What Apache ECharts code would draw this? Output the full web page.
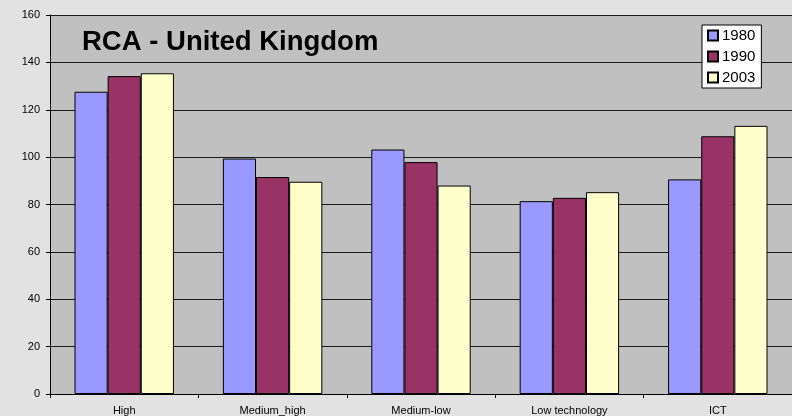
<!DOCTYPE html>
<html>
<head>
<meta charset="utf-8">
<script src="https://cdn.jsdelivr.net/npm/echarts@6/dist/echarts.min.js"></script>
<style>
html,body{margin:0;padding:0;background:#e2e2e2;}
#chart{width:792px;height:416px;}
</style>
</head>
<body>
<div id="chart"></div>
<script>
const categories = ['High', 'Medium_high', 'Medium-low', 'Low technology', 'ICT'];
const seriesNames = ['1980', '1990', '2003'];
const values1980 = [127.6, 99.4, 103.2, 81.4, 90.6];
const values1990 = [134.2, 91.6, 97.9, 82.8, 108.8];
const values2003 = [135.4, 89.6, 88.0, 85.2, 113.2];
const yTicks = [0, 20, 40, 60, 80, 100, 120, 140, 160];
const titleText = 'RCA - United Kingdom';

const colors = ['#9999ff', '#993366', '#ffffcc'];
const allValues = [values1980, values1990, values2003];
const FONT = '"Liberation Sans", Arial, sans-serif';

const chart = echarts.init(document.getElementById('chart'), null, {renderer: 'canvas'});
chart.setOption({
  animation: false,
  backgroundColor: '#e2e2e2',
  title: {
    text: titleText,
    left: 82, top: 28, padding: 0,
    textStyle: {fontFamily: FONT, fontSize: 27.5, fontWeight: 'bold', color: '#000'}
  },
  legend: {
    orient: 'vertical',
    left: 702, top: 25,
    padding: [3, 6, 3, 5],
    backgroundColor: '#ffffff',
    borderColor: '#000', borderWidth: 1,
    itemWidth: 10, itemHeight: 10, itemGap: 6,
    icon: 'rect',
    textStyle: {fontFamily: FONT, fontSize: 15, color: '#000', lineHeight: 15, padding: [0, 0, 0, -1]},
    data: seriesNames
  },
  grid: {left: 50, right: 0, top: 15, bottom: 22, show: true, backgroundColor: '#c0c0c0', borderWidth: 0},
  xAxis: {
    type: 'category',
    data: categories,
    axisLine: {lineStyle: {color: '#000', width: 1}},
    axisTick: {show: true, length: 4, lineStyle: {color: '#000'}},
    axisLabel: {fontFamily: FONT, fontSize: 11, color: '#000', margin: 11, interval: 0}
  },
  yAxis: {
    type: 'value',
    min: yTicks[0], max: yTicks[yTicks.length - 1], interval: yTicks[1] - yTicks[0],
    axisLine: {show: true, lineStyle: {color: '#000', width: 1}},
    axisTick: {show: true, length: 4, lineStyle: {color: '#000'}},
    axisLabel: {fontFamily: FONT, fontSize: 11, color: '#000', margin: 10},
    splitLine: {show: true, lineStyle: {color: '#1a1a1a', width: 1}}
  },
  series: seriesNames.map((name, i) => ({
    name: name,
    type: 'bar',
    data: allValues[i],
    barGap: '0%',
    barCategoryGap: '33%',
    itemStyle: {color: colors[i], borderColor: '#000', borderWidth: 1}
  }))
});
</script>
</body>
</html>
